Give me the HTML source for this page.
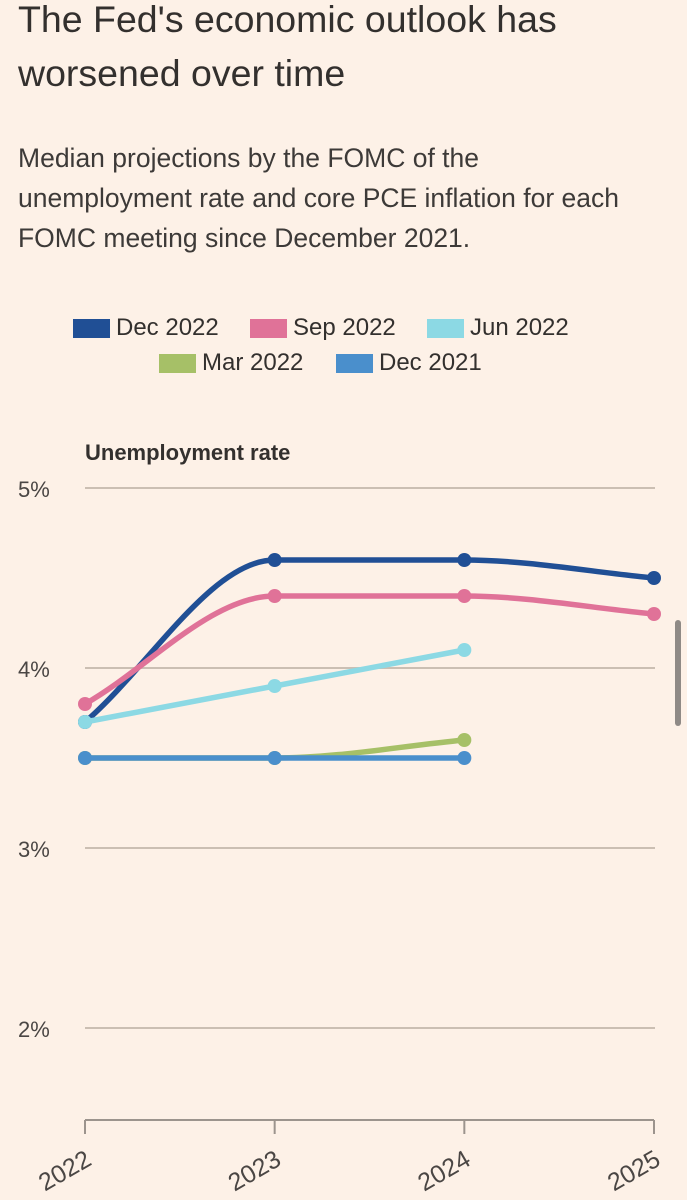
<!DOCTYPE html>
<html><head><meta charset="utf-8"><style>
html,body{margin:0;padding:0;background:#fdf1e7;}
body{width:687px;height:1200px;overflow:hidden;position:relative;font-family:"Liberation Sans",sans-serif;color:#33302e;}
h1{position:absolute;left:18px;top:-8px;margin:0;font-weight:400;font-size:37.5px;line-height:54px;width:620px;}
.sub{position:absolute;left:18px;top:138px;margin:0;font-size:26.5px;line-height:40px;color:#3d3a38;width:669px;white-space:nowrap;}
.leg{position:absolute;font-size:24px;display:flex;align-items:center;}
.sw{width:37px;height:19px;margin-right:6px;display:inline-block;}
.scroll{position:absolute;left:675px;top:620px;width:6px;height:106px;border-radius:3px;background:#8f8a86;}
</style></head><body>
<h1>The Fed's economic outlook has<br>worsened over time</h1>
<p class="sub">Median projections by the FOMC of the<br>unemployment rate and core PCE inflation for each<br>FOMC meeting since December 2021.</p>
<div class="leg" style="left:73px;top:314px"><span class="sw" style="background:#204f95"></span>Dec 2022</div>
<div class="leg" style="left:250px;top:314px"><span class="sw" style="background:#e07298"></span>Sep 2022</div>
<div class="leg" style="left:427px;top:314px"><span class="sw" style="background:#8cd9e4"></span>Jun 2022</div>
<div class="leg" style="left:159px;top:349px"><span class="sw" style="background:#a6c067"></span>Mar 2022</div>
<div class="leg" style="left:336px;top:349px"><span class="sw" style="background:#4a8fcc"></span>Dec 2021</div>
<svg id="chart" width="687" height="1200" style="position:absolute;left:0;top:0"></svg>
<div class="scroll"></div>
<script>
const years = ["2022","2023","2024","2025"];
const yTicks = [2,3,4,5];
const dec2022 = [3.7,4.6,4.6,4.5];
const sep2022 = [3.8,4.4,4.4,4.3];
const mar2022 = [3.5,3.5,3.6];
const dec2021 = [3.5,3.5,3.5];
const jun2022 = [3.7,3.9,4.1];
const NS="http://www.w3.org/2000/svg";
const svg=document.getElementById('chart');
const x0=85,x1=654,yBase=1120;
function xs(i){return x0+i*(x1-x0)/(years.length-1);}
function ys(v){return 488+(5-v)*180;}
function mk(t,a,p){const e=document.createElementNS(NS,t);for(const k in a)e.setAttribute(k,a[k]);(p||svg).appendChild(e);return e;}
const t=mk('text',{x:85,y:460,'font-size':22,fill:'#33302e','font-weight':'bold','font-family':'Liberation Sans, sans-serif'});
t.textContent='Unemployment rate';


yTicks.forEach(v=>{
  const l=mk('line',{x1:x0,x2:x1+1,y1:ys(v),y2:ys(v),stroke:'#cbbfb3','stroke-width':2});
  
  
  const tx=mk('text',{x:18,y:ys(v)+9,'font-size':22,fill:'#4a4644','font-family':'Liberation Sans, sans-serif'});
  tx.textContent=v+'%';
  
  
});
const ax=mk('line',{x1:x0,x2:x1,y1:yBase,y2:yBase,stroke:'#9c948d','stroke-width':2});


years.forEach((y,i)=>{
  const l=mk('line',{x1:xs(i),x2:xs(i),y1:yBase,y2:yBase+14,stroke:'#9c948d','stroke-width':2});
  
  
  const ax_=xs(i)+8,ay_=yBase+44;
  const tx=mk('text',{x:ax_,y:ay_,'font-size':25,fill:'#4a4644','text-anchor':'end','font-family':'Liberation Sans, sans-serif',transform:`rotate(-30 ${ax_} ${ay_})`});
  tx.textContent=y;
  
  
});
function monotone(pts){
  const n=pts.length;if(n<2)return '';
  const d=[],m=[];
  for(let i=0;i<n-1;i++)d.push((pts[i+1][1]-pts[i][1])/(pts[i+1][0]-pts[i][0]));
  m[0]=d[0];m[n-1]=d[n-2];
  for(let i=1;i<n-1;i++){m[i]=(d[i-1]*d[i]<=0)?0:(d[i-1]+d[i])/2;}
  for(let i=0;i<n-1;i++){if(d[i]===0){m[i]=0;m[i+1]=0;continue;}const a=m[i]/d[i],b=m[i+1]/d[i],s=a*a+b*b;if(s>9){const tt=3/Math.sqrt(s);m[i]=tt*a*d[i];m[i+1]=tt*b*d[i];}}
  let p=`M${pts[0][0]},${pts[0][1]}`;
  for(let i=0;i<n-1;i++){const h=(pts[i+1][0]-pts[i][0])/3;p+=`C${pts[i][0]+h},${pts[i][1]+m[i]*h} ${pts[i+1][0]-h},${pts[i+1][1]-m[i+1]*h} ${pts[i+1][0]},${pts[i+1][1]}`;}
  return p;
}
function series(vals,color,name){
  const pts=vals.map((v,i)=>[xs(i),ys(v)]);
  const p=mk('path',{d:monotone(pts),fill:'none',stroke:color,'stroke-width':5.5});
  
  
  pts.forEach(q=>{
    const c=mk('circle',{cx:q[0],cy:q[1],r:7,fill:color});
    
    
  });
}
series(dec2022,'#204f95','dec-2022');
series(sep2022,'#e07298','sep-2022');
series(mar2022,'#a6c067','mar-2022');
series(dec2021,'#4a8fcc','dec-2021');
series(jun2022,'#8cd9e4','jun-2022');
</script>
</body></html>
